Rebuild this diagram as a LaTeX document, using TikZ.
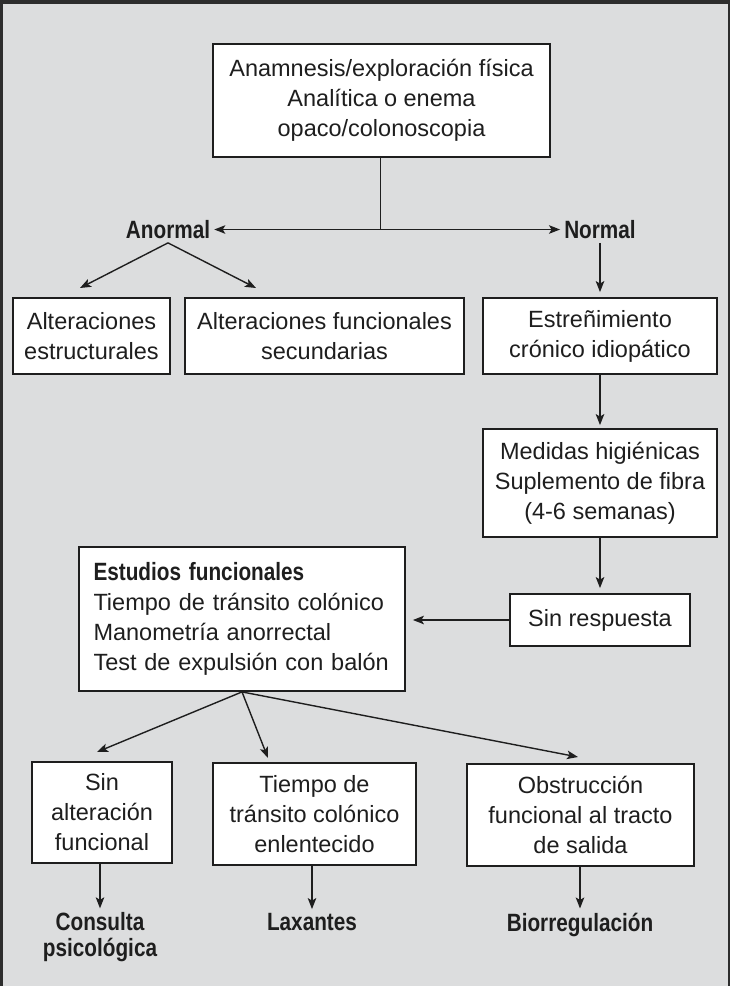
\documentclass[tikz,border=0pt]{standalone}
\usepackage{fontspec}
\setmainfont{Liberation Sans}
\newfontfamily\condbf{Liberation Sans Bold}[FakeStretch=0.83]
\usetikzlibrary{arrows.meta}
\definecolor{bggray}{RGB}{220,221,222}
\definecolor{framegray}{RGB}{45,45,45}
\definecolor{inkgray}{RGB}{30,30,30}

\begin{document}
\begin{tikzpicture}[x=1pt,y=-1pt,
    box/.style={draw=inkgray,line width=1.8pt,fill=white,align=center,inner sep=0pt,
      text=inkgray,font=\fontsize{23.5}{30}\selectfont},
    lbl/.style={align=center,inner sep=4pt,text=inkgray,font=\condbf\fontsize{25}{25.5}\selectfont},
    conn/.style={-{Stealth[length=11pt,width=8.5pt,inset=2.5pt]},line width=1.4pt,draw=inkgray}]
    % background and frame
    \useasboundingbox (0,0) rectangle (730,986);
    \fill[bggray] (0,0) rectangle (730,986);
    \draw[framegray,line width=2.5pt] (1.25,986) -- (1.25,2) -- (728.75,2) -- (728.75,986);
    \fill[framegray] (0,0) rectangle (730,3.5);

    \node[box,minimum width=337,minimum height=113] (exam) at (381.5,100.5) {Anamnesis/exploración física\\Analítica o enema\\opaco/colonoscopia};
    \node[lbl] (anormal) at (168,229.5) {Anormal};
    \node[lbl] (normal) at (600,229.5) {Normal};

    \node[box,minimum width=157,minimum height=76] (estruc) at (91.5,336) {Alteraciones\\estructurales};
    \node[box,minimum width=279,minimum height=76] (secund) at (324.5,336) {Alteraciones funcionales\\secundarias};
    \node[box,minimum width=234,minimum height=76] (idiop) at (600,336) {Estreñimiento\\crónico idiopático};
    \node[box,minimum width=234,minimum height=108] (higien) at (600,483) {Medidas higiénicas\\Suplemento de fibra\\(4-6 semanas)};
    \node[box,minimum width=180,minimum height=52] (sinresp) at (600,620) {Sin respuesta};
    \node[box,minimum width=326,minimum height=144,text width=297,align=left] (estudios) at (242,619) {{\condbf\fontsize{25}{30}\selectfont Estudios funcionales}\\Tiempo de tránsito colónico\\Manometría anorrectal\\Test de expulsión con balón};

    \node[box,minimum width=140,minimum height=101] (sinalt) at (102,812.5) {Sin\\alteración\\funcional};
    \node[box,minimum width=203,minimum height=102] (lento) at (314.5,814) {Tiempo de\\tránsito colónico\\enlentecido};
    \node[box,minimum width=227,minimum height=102] (obstr) at (580.5,815) {Obstrucción\\funcional al tracto\\de salida};
    \node[lbl] (psico) at (100,937) {Consulta\\psicológica};
    \node[lbl] (laxan) at (312,922) {Laxantes};
    \node[lbl] (biorr) at (580,924.5) {Biorregulación};

    \coordinate (split) at (380.5,229.5);
    \coordinate (toestruc) at (80,288);
    \coordinate (tosecund) at (256,288);
    \coordinate (tosinalt) at (97,752);
    \coordinate (tolento) at (268,758);
    \coordinate (toobstr) at (578,757);

    \draw[line width=1.4pt,inkgray] (exam.south -| split) -- (split);
    \draw[conn] (split) -- (anormal.east);
    \draw[conn] (split) -- (normal.west);
    \draw[conn] (anormal.south) -- (toestruc);
    \draw[conn] (anormal.south) -- (tosecund);
    \draw[conn,shorten >=5pt] (normal.south) -- (idiop.north);
    \draw[conn,shorten >=3pt] (idiop.south) -- (higien.north);
    \draw[conn,shorten >=5pt] (higien.south) -- (sinresp.north);
    \draw[conn,shorten >=7pt] (sinresp.west) -- (sinresp.west -| estudios.east);
    \draw[conn] (estudios.south) -- (tosinalt);
    \draw[conn] (estudios.south) -- (tolento);
    \draw[conn] (estudios.south) -- (toobstr);
    \draw[conn] (sinalt.south -| psico.north) -- (psico.north);
    \draw[conn] (lento.south -| laxan.north) -- (laxan.north);
    \draw[conn] (obstr.south -| biorr.north) -- (biorr.north);
\end{tikzpicture}
\end{document}
